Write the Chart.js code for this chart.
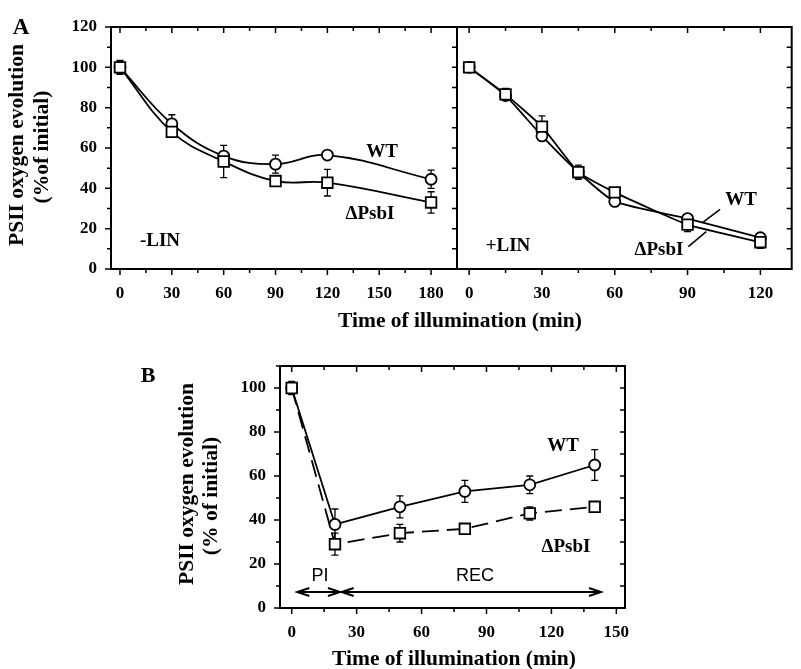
<!DOCTYPE html>
<html>
<head>
    <title>PSII oxygen evolution</title>
    <script src="https://cdn.jsdelivr.net/npm/chart.js"></script>
    <style>
        body {
            margin: 0;
            background: #fff;
        }
        #wrap {
            position: relative;
            width: 801px;
            height: 669px;
            overflow: hidden;
        }
        canvas {
            position: absolute;
            left: 0;
            top: 0;
        }
        .t {
            position: absolute;
            font-family: 'Liberation Serif', 'Times New Roman', serif;
            font-weight: bold;
            line-height: 1;
            white-space: nowrap;
            color: #000;
            transform: translate(-50%, -50%);
        }
        .rot {
            transform: translate(-50%, -50%) rotate(-90deg);
        }
        .sans {
            font-family: 'Liberation Sans', Arial, sans-serif;
            font-weight: normal;
        }
    </style>
</head>
<body>
<div id="wrap">
    <canvas id="chartA1" width="801" height="669"></canvas>
    <canvas id="chartA2" width="801" height="669"></canvas>
    <canvas id="chartB" width="801" height="669"></canvas>

    <!-- panel letters and axis titles -->
    <div class="t" style="left:21px;top:26px;font-size:23px">A</div>
    <div class="t rot" style="left:17px;top:145px;font-size:21.5px">PSII oxygen evolution</div>
    <div class="t rot" style="left:42px;top:147px;font-size:21.5px">(%of initial)</div>
    <div class="t" style="left:460px;top:321px;font-size:21.5px">Time of illumination (min)</div>

    <div class="t" style="left:148px;top:375px;font-size:22px">B</div>
    <div class="t rot" style="left:187px;top:484px;font-size:21.5px">PSII oxygen evolution</div>
    <div class="t rot" style="left:211px;top:496px;font-size:21.5px">(% of initial)</div>
    <div class="t" style="left:454px;top:659px;font-size:21.5px">Time of illumination (min)</div>

    <!-- labels inside the plots -->
    <div class="t" style="left:382px;top:150px;font-size:19px">WT</div>
    <div class="t" style="left:370px;top:212px;font-size:19px">&Delta;PsbI</div>
    <div class="t" style="left:160px;top:239px;font-size:19px">-LIN</div>
    <div class="t" style="left:508px;top:244px;font-size:19px">+LIN</div>
    <div class="t" style="left:741px;top:198px;font-size:19px">WT</div>
    <div class="t" style="left:659px;top:248px;font-size:19px">&Delta;PsbI</div>
    <div class="t" style="left:563px;top:444px;font-size:19px">WT</div>
    <div class="t" style="left:566px;top:545px;font-size:19px">&Delta;PsbI</div>
    <div class="t sans" style="left:320px;top:575px;font-size:18px">PI</div>
    <div class="t sans" style="left:475px;top:575px;font-size:18px">REC</div>
</div>

<script>
    // ---- Panel A, -LIN ----
    const timeA1 = [0, 30, 60, 90, 120, 180];
    const wtA1 = [100, 72, 56, 52, 56.5, 44.5];
    const wtA1Err = [3.5, 4.5, 0, 4.5, 0, 4.5];
    const psbA1 = [100, 68, 53.3, 43.6, 42.8, 33];
    const psbA1Err = [3, 0, 8, 2, 6.6, 5.3];
    const xTicksA1 = [0, 30, 60, 90, 120, 150, 180];

    // ---- Panel A, +LIN ----
    const timeA2 = [0, 15, 30, 45, 60, 90, 120];
    const wtA2 = [100, 86, 66, 48, 33.5, 25, 15.5];
    const wtA2Err = [1, 2, 2, 2, 1.5, 2, 1.5];
    const psbA2 = [100, 86.6, 70.6, 48, 38, 22, 13.3];
    const psbA2Err = [1, 3, 5.3, 3.5, 0, 3.5, 3];
    const xTicksA2 = [0, 30, 60, 90, 120];
    // leader lines from the labels to the curves (data coords)
    const wtPointer = [[103.4, 29.6], [96, 22.9]];
    const psbPointer = [[90.3, 11.1], [97.7, 18.5]];

    const yTicksA = [0, 20, 40, 60, 80, 100, 120];

    // ---- Panel B ----
    const timeB = [0, 20, 50, 80, 110, 140];
    const wtB = [100, 38, 46, 53, 56, 65];
    const wtBErr = [3, 7, 5, 5, 4, 7];
    const psbB = [100, 29, 34, 36, 43, 46];
    const psbBErr = [2, 5, 4, 0, 3, 0];
    const xTicksB = [0, 30, 60, 90, 120, 150];
    const yTicksB = [0, 20, 40, 60, 80, 100];
    // PI and REC periods: [from, to, height]
    const periodsB = [[2.6, 22.3, 7.3], [23.1, 142.9, 7.3]];

    Chart.defaults.font.family = "'Liberation Serif', 'Times New Roman', serif";
    Chart.defaults.font.weight = 'bold';
    Chart.defaults.font.size = 17;
    Chart.defaults.color = '#000';

    function pts(xs, ys) {
        return xs.map((x, i) => ({ x: x, y: ys[i] }));
    }

    // every 15 min on x, every 10 % on y; majors get the longer mark
    function marks(from, to, step, majorStep) {
        const out = [];
        for (let v = from; v <= to + 1e-9; v += step) {
            out.push({ v: v, major: Math.abs(v / majorStep - Math.round(v / majorStep)) < 1e-6 });
        }
        return out;
    }

    const frameTicks = {
        id: 'frameTicks',
        afterDraw(chart, args, opts) {
            const { ctx, chartArea: a } = chart;
            const x = chart.scales.x, y = chart.scales.y;
            ctx.save();
            ctx.strokeStyle = '#000';
            ctx.lineWidth = 1.5;
            ctx.beginPath();
            opts.xMarks.forEach(m => {
                const px = x.getPixelForValue(m.v);
                const len = m.major ? 6 : 4;
                ctx.moveTo(px, a.bottom); ctx.lineTo(px, a.bottom + len);
                ctx.moveTo(px, a.top); ctx.lineTo(px, a.top + len);
            });
            opts.yMarks.forEach(m => {
                const py = y.getPixelForValue(m.v);
                const len = m.major ? 6 : 4;
                if (opts.left) { ctx.moveTo(a.left - len, py); ctx.lineTo(a.left, py); }
                ctx.moveTo(a.right - 5, py); ctx.lineTo(a.right, py);
            });
            ctx.stroke();
            ctx.lineWidth = 2;
            ctx.strokeRect(a.left, a.top, a.right - a.left, a.bottom - a.top);
            ctx.restore();
        }
    };

    const errorBars = {
        id: 'errorBars',
        beforeDatasetsDraw(chart) {
            const { ctx } = chart;
            const y = chart.scales.y;
            ctx.save();
            ctx.strokeStyle = '#000';
            ctx.lineWidth = 1.3;
            chart.data.datasets.forEach((ds, i) => {
                if (!ds.errors) return;
                chart.getDatasetMeta(i).data.forEach((el, j) => {
                    const e = ds.errors[j];
                    if (!e) return;
                    const top = y.getPixelForValue(ds.data[j].y + e);
                    const bot = y.getPixelForValue(ds.data[j].y - e);
                    ctx.beginPath();
                    ctx.moveTo(el.x, top); ctx.lineTo(el.x, bot);
                    ctx.moveTo(el.x - 3.5, top); ctx.lineTo(el.x + 3.5, top);
                    ctx.moveTo(el.x - 3.5, bot); ctx.lineTo(el.x + 3.5, bot);
                    ctx.stroke();
                });
            });
            ctx.restore();
        }
    };

    const periodArrows = {
        id: 'periodArrows',
        afterDatasetsDraw(chart, args, opts) {
            if (!opts.periods) return;
            const { ctx } = chart;
            const x = chart.scales.x, y = chart.scales.y;
            ctx.save();
            ctx.strokeStyle = '#000';
            ctx.lineWidth = 2;
            opts.periods.forEach(p => {
                const x1 = x.getPixelForValue(p[0]);
                const x2 = x.getPixelForValue(p[1]);
                const py = y.getPixelForValue(p[2]);
                ctx.beginPath();
                ctx.moveTo(x1, py); ctx.lineTo(x2, py);
                ctx.moveTo(x1 + 12, py - 4); ctx.lineTo(x1, py); ctx.lineTo(x1 + 12, py + 4);
                ctx.moveTo(x2 - 12, py - 4); ctx.lineTo(x2, py); ctx.lineTo(x2 - 12, py + 4);
                ctx.stroke();
            });
            ctx.restore();
        }
    };

    function series(data, errs, style, tension, dash) {
        return {
            data: data,
            errors: errs,
            borderColor: '#000',
            borderWidth: 1.8,
            borderDash: dash || [],
            tension: tension,
            pointStyle: style,
            pointRadius: style === 'rect' ? 7.5 : 5.5,
            pointBackgroundColor: '#fff',
            pointBorderColor: '#000',
            pointBorderWidth: 1.8
        };
    }

    function pointer(line) {
        return {
            data: line.map(p => ({ x: p[0], y: p[1] })),
            borderColor: '#000',
            borderWidth: 1.5,
            pointRadius: 0,
            tension: 0
        };
    }

    function makeChart(id, cfg) {
        return new Chart(document.getElementById(id), {
            type: 'line',
            data: { datasets: cfg.datasets },
            plugins: [errorBars, frameTicks, periodArrows],
            options: {
                responsive: false,
                animation: false,
                devicePixelRatio: 1,
                events: [],
                layout: { padding: cfg.padding },
                scales: {
                    x: {
                        type: 'linear',
                        min: cfg.xMin,
                        max: cfg.xMax,
                        afterBuildTicks: s => { s.ticks = cfg.xTicks.map(v => ({ value: v })); },
                        afterFit: s => { s.height = 40; },
                        ticks: { padding: 6, maxRotation: 0, autoSkip: false },
                        grid: { display: false },
                        border: { display: false }
                    },
                    y: {
                        min: cfg.yMin,
                        max: cfg.yMax,
                        afterBuildTicks: s => { s.ticks = cfg.yTicks.map(v => ({ value: v })); },
                        afterFit: s => { s.width = cfg.yWidth; },
                        ticks: { display: cfg.yLabels, padding: 6 },
                        grid: { display: false },
                        border: { display: false }
                    }
                },
                plugins: {
                    legend: { display: false },
                    tooltip: { enabled: false },
                    frameTicks: { xMarks: cfg.xMarks, yMarks: cfg.yMarks, left: cfg.yLabels },
                    periodArrows: { periods: cfg.periods }
                }
            }
        });
    }

    makeChart('chartA1', {
        datasets: [
            series(pts(timeA1, psbA1), psbA1Err, 'rect', 0.4),
            series(pts(timeA1, wtA1), wtA1Err, 'circle', 0.4)
        ],
        padding: { left: 0, top: 27, right: 344, bottom: 360 },
        xMin: -5.2, xMax: 195, xTicks: xTicksA1,
        yMin: 0, yMax: 120, yTicks: yTicksA, yWidth: 111, yLabels: true,
        xMarks: marks(0, 180, 15, 30), yMarks: marks(0, 120, 10, 20)
    });

    makeChart('chartA2', {
        datasets: [
            series(pts(timeA2, psbA2), psbA2Err, 'rect', 0.15),
            series(pts(timeA2, wtA2), wtA2Err, 'circle', 0.2),
            pointer(wtPointer),
            pointer(psbPointer)
        ],
        padding: { left: 437, top: 27, right: 3, bottom: 360 },
        xMin: -5, xMax: 132.9, xTicks: xTicksA2,
        yMin: 0, yMax: 120, yTicks: yTicksA, yWidth: 20, yLabels: false,
        xMarks: marks(0, 120, 15, 30), yMarks: marks(0, 120, 10, 20)
    });

    makeChart('chartB', {
        datasets: [
            series(pts(timeB, psbB), psbBErr, 'rect', 0, [17, 8]),
            series(pts(timeB, wtB), wtBErr, 'circle', 0)
        ],
        padding: { left: 0, top: 366, right: 176, bottom: 21 },
        xMin: -5.4, xMax: 154, xTicks: xTicksB,
        yMin: 0, yMax: 110, yTicks: yTicksB, yWidth: 280, yLabels: true,
        xMarks: marks(0, 150, 15, 30), yMarks: marks(0, 110, 10, 20),
        periods: periodsB
    });
</script>
</body>
</html>
